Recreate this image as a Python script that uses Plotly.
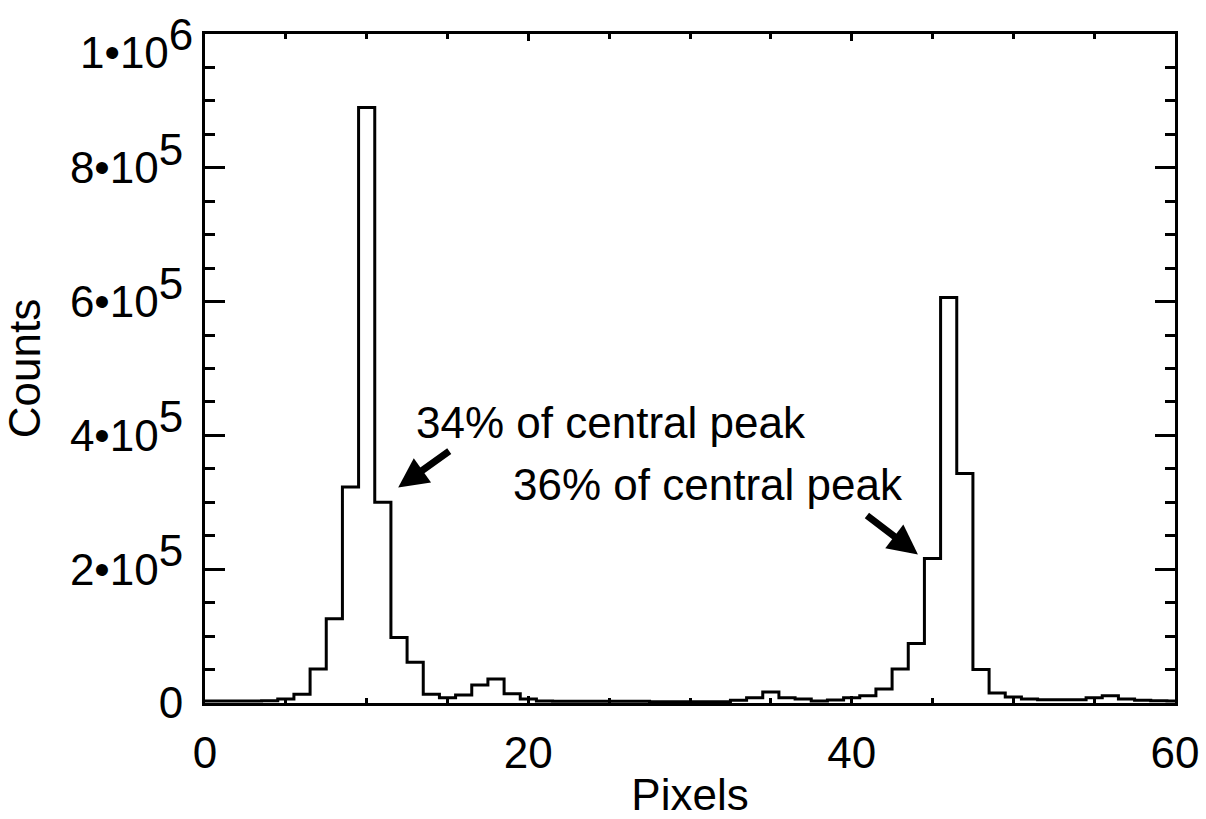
import plotly.graph_objects as go

# Histogram data: pixel bins (centred on integers) and counts
pixels = list(range(0, 61))
counts = [
    3000, 3000, 3000, 3000, 3500, 6000, 13000, 51000, 126000, 323000,
    890000, 300000, 98000, 61000, 13000, 8000, 12000, 27000, 36000, 14000,
    6000, 3000, 2500, 2500, 2500, 2500, 2500, 2500, 2000, 2000,
    2000, 2000, 2000, 4000, 8000, 16500, 8000, 6000, 3000, 4500,
    8000, 11000, 21000, 51000, 89000, 216000, 606000, 343000, 50000, 15000,
    9000, 6000, 5000, 5000, 5000, 8000, 11000, 6000, 4000, 3500,
    3000,
]

y_tickvals = [0, 200000, 400000, 600000, 800000, 1000000]
y_ticktext = ["0", "2•10", "4•10", "6•10", "8•10", "1•10"]
y_exponents = ["", "5", "5", "5", "5", "6"]
x_tickvals = [0, 20, 40, 60]
x_ticktext = ["0", "20", "40", "60"]

FS = 44
FONT = "Liberation Sans, Arial, Helvetica, sans-serif"


def fmt(base, exp):
    if exp:
        return f'{base}<sup><span style="font-size:{FS}px">{exp}</span></sup>'
    return base


labels = [fmt(b, e) for b, e in zip(y_ticktext, y_exponents)]
# the top label is drawn as an annotation (nudged down so it stays inside the page)
axis_labels = labels[:-1] + [""]

fig = go.Figure()
fig.add_trace(go.Scatter(
    x=pixels, y=counts, mode="lines", line_shape="hvh",
    line=dict(color="black", width=3), showlegend=False,
))

fig.add_annotation(x=0, xref="paper", y=y_tickvals[-1], yref="y", text=labels[-1],
                   showarrow=False, xanchor="right", yanchor="middle", xshift=-10, yshift=-9,
                   font=dict(size=FS, color="black", family=FONT))

# annotations: text labels
fig.add_annotation(x=12.9, y=420000, text="34% of central peak", showarrow=False,
                   xanchor="left", yanchor="middle", font=dict(size=FS, color="black", family=FONT))
fig.add_annotation(x=18.9, y=327000, text="36% of central peak", showarrow=False,
                   xanchor="left", yanchor="middle", font=dict(size=FS, color="black", family=FONT))
# arrows
fig.add_annotation(x=11.95, y=322000, ax=15.2, ay=378000, axref="x", ayref="y",
                   text="", showarrow=True, arrowhead=2, arrowsize=0.85, arrowwidth=7,
                   arrowcolor="black")
fig.add_annotation(x=44.1, y=222000, ax=40.85, ay=282000, axref="x", ayref="y",
                   text="", showarrow=True, arrowhead=2, arrowsize=0.85, arrowwidth=7,
                   arrowcolor="black")

fig.update_layout(
    width=1206, height=819,
    margin=dict(l=205, r=31, t=34, b=116),
    paper_bgcolor="white", plot_bgcolor="white",
    font=dict(family=FONT, size=FS, color="black"),
    xaxis=dict(
        range=[0, 60], tickvals=x_tickvals, ticktext=x_ticktext,
        showline=True, linecolor="black", linewidth=3, mirror="allticks",
        ticks="inside", ticklen=7, tickwidth=3, tickcolor="black",
        minor=dict(ticks="inside", dtick=5, ticklen=5, tickwidth=3, tickcolor="black"),
        showgrid=False, zeroline=False, ticklabelstandoff=9, automargin=False,
        ticklabeloverflow="allow",
        title=dict(text="Pixels", standoff=6, font=dict(size=FS)),
    ),
    yaxis=dict(
        range=[0, 1000000], tickvals=y_tickvals, ticktext=axis_labels,
        showline=True, linecolor="black", linewidth=3, mirror="allticks",
        ticks="inside", ticklen=20, tickwidth=3, tickcolor="black",
        minor=dict(ticks="inside", dtick=50000, ticklen=10, tickwidth=3, tickcolor="black"),
        showgrid=False, zeroline=False, ticklabelstandoff=10, automargin=False,
        ticklabeloverflow="allow",
        title=dict(text="Counts", standoff=18, font=dict(size=FS)),
    ),
)

fig.write_html("out.html")
